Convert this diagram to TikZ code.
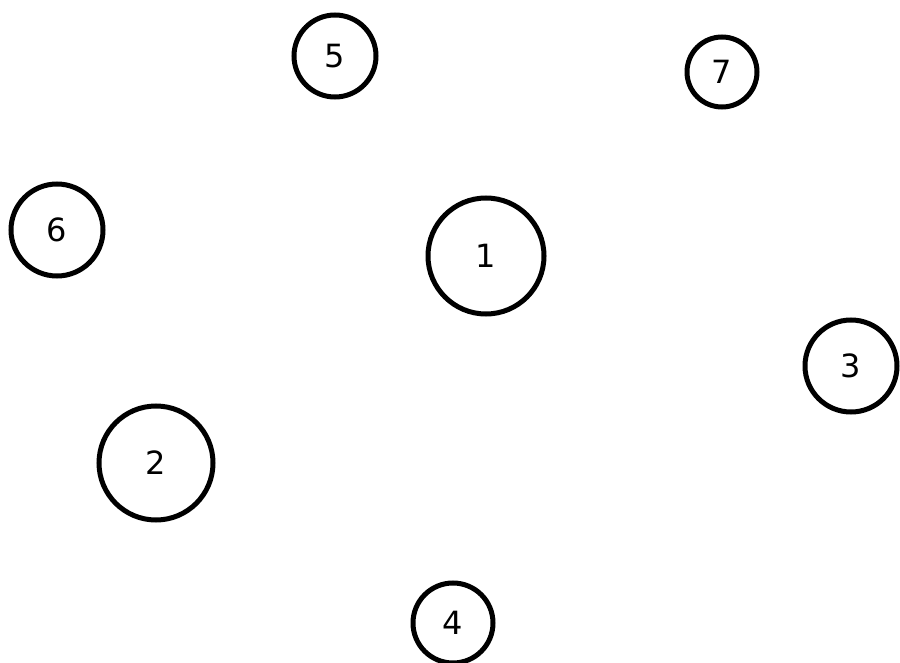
\documentclass[tikz,border=0pt]{standalone}
\usepackage{fontspec}
\setmainfont{DejaVu Sans}
\begin{document}
\begin{tikzpicture}[x=1pt,y=-1pt,
  vtx/.style={circle,draw=black,line width=5pt,inner sep=0pt,minimum size=#1,font=\fontsize{32}{32}\selectfont}]
\useasboundingbox (0,0) rectangle (900,663);
\node[vtx=82pt] (n5) at (335,56) {5};
\node[vtx=70pt] (n7) at (722,72) {7};
\node[vtx=92pt] (n6) at (57,230) {6};
\node[vtx=116pt] (n1) at (486,256) {1};
\node[vtx=92pt] (n3) at (851,366) {3};
\node[vtx=114pt] (n2) at (156,463) {2};
\node[vtx=80pt] (n4) at (453,623) {4};
\end{tikzpicture}
\end{document}
